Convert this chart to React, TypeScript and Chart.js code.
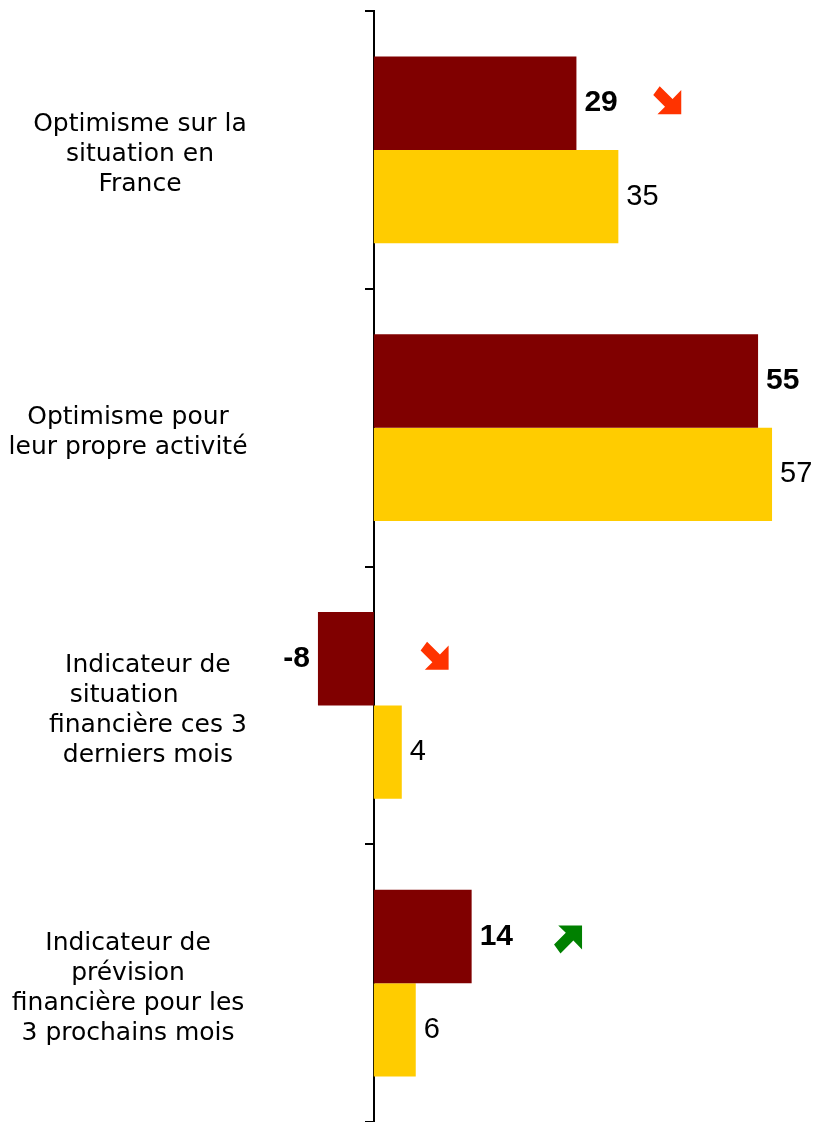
import React, { useEffect, useRef } from 'react';
import { Chart, registerables } from 'chart.js';

Chart.register(...registerables);

const categories: string[][] = [
  [' Optimisme sur la', ' situation en', ' France'],
  ['Optimisme pour  ', 'leur propre activité  '],
  ['   Indicateur de', 'situation   ', '   financière ces 3', '   derniers mois'],
  ['Indicateur de  ', 'prévision  ', 'financière pour les  ', '3 prochains mois  '],
];

const currentValues = [29, 55, -8, 14];
const previousValues = [35, 57, 4, 6];
const trends: (string | null)[] = ['down', null, 'down', 'up'];

const seriesNames = ['Vague actuelle', 'Vague précédente'];
const seriesColors = ['#800000', '#FFCC00'];

const arrowValueAt = [42, 0, 8.7, 27.8];

function drawArrow(ctx: CanvasRenderingContext2D, cx: number, cy: number, size: number, up: boolean, color: string) {
  const pts = [
    [0.23, 0], [0.69, 0.46], [1, 0.14], [1, 1], [0.15, 1], [0.42, 0.74], [0, 0.32],
  ];
  ctx.beginPath();
  pts.forEach(([px, py], k) => {
    const yy = up ? 1 - py : py;
    const X = cx - size / 2 + px * size;
    const Y = cy - size / 2 + yy * size;
    if (k === 0) ctx.moveTo(X, Y);
    else ctx.lineTo(X, Y);
  });
  ctx.closePath();
  ctx.fillStyle = color;
  ctx.fill();
}

const drawPlugin = {
  id: 'customDraw',
  afterDraw(chart: any) {
    const ctx: CanvasRenderingContext2D = chart.ctx;
    const yScale = chart.scales.y;
    const xScale = chart.scales.x;
    ctx.save();
    // category labels
    ctx.font = '25px "DejaVu Sans"';
    ctx.fillStyle = '#000';
    ctx.textAlign = 'center';
    ctx.textBaseline = 'middle';
    categories.forEach((lines, i) => {
      const cy = yScale.getPixelForValue(i) + 5;
      lines.forEach((line, j) => {
        ctx.fillText(line, 136, cy + (j - (lines.length - 1) / 2) * 30);
      });
    });
    // value labels
    chart.data.datasets.forEach((ds: any, di: number) => {
      const meta = chart.getDatasetMeta(di);
      ctx.font = di === 0 ? 'bold 30px "Liberation Sans"' : '29px "Liberation Sans"';
      ctx.fillStyle = '#000';
      meta.data.forEach((bar: any, i: number) => {
        const v = ds.data[i];
        const neg = v < 0;
        ctx.textAlign = neg ? 'right' : 'left';
        ctx.fillText(String(v), bar.x + (neg ? -8 : 8), bar.y);
      });
    });
    // trend arrows
    const meta0 = chart.getDatasetMeta(0);
    trends.forEach((t, i) => {
      if (!t) return;
      const bar = meta0.data[i];
      const x = xScale.getPixelForValue(arrowValueAt[i]);
      const up = t === 'up';
      drawArrow(ctx, x, bar.y + (up ? 3 : -3), 28, up, up ? '#008000' : '#FF3300');
    });
    ctx.restore();
  },
};

export default function App() {
  const ref = useRef<HTMLCanvasElement>(null);
  useEffect(() => {
    const chart = new Chart(ref.current as HTMLCanvasElement, {
      type: 'bar',
      data: {
        labels: categories,
        datasets: [
          {
            label: seriesNames[0],
            data: currentValues,
            backgroundColor: seriesColors[0],
            categoryPercentage: 0.673,
            barPercentage: 1,
          },
          {
            label: seriesNames[1],
            data: previousValues,
            backgroundColor: seriesColors[1],
            categoryPercentage: 0.673,
            barPercentage: 1,
          },
        ],
      },
      options: {
        indexAxis: 'y',
        animation: false,
        responsive: true,
        maintainAspectRatio: false,
        layout: { padding: { left: 290, right: 21, top: 11, bottom: 0 } },
        plugins: { legend: { display: false }, tooltip: { enabled: false } },
        scales: {
          x: { display: false, min: -12, max: 60 },
          y: {
            position: { x: 0 } as any,
            offset: true,
            z: 1,
            grid: {
              offset: true,
              drawOnChartArea: false,
              drawTicks: true,
              tickLength: 8,
              color: '#000',
              lineWidth: 2,
            },
            border: { display: true, color: '#000', width: 2 },
            ticks: { display: false },
          },
        },
      },
      plugins: [drawPlugin],
    });
    return () => chart.destroy();
  }, []);
  return (
    <div style={{ position: 'fixed', left: 0, top: 0, width: 814, height: 1122, background: '#fff' }}>
      <canvas ref={ref} />
    </div>
  );
}
